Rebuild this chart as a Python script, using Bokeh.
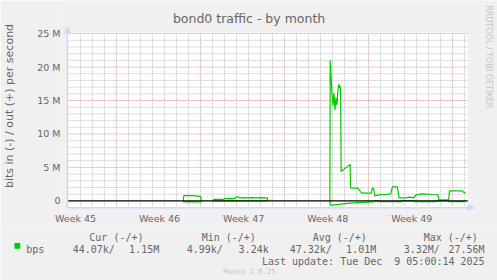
import math
from bokeh.plotting import figure
from bokeh.models import Range1d, FixedTicker, Label, Arrow, NormalHead
from bokeh.embed import file_html
from bokeh.resources import INLINE

nan = float("nan")

# ---- data (x = days since graph start, y = Mbit/s) ----
out_days = [9.56, 9.62, 10.39, 10.83, 11.04, 11.08, nan,
            12.05, 12.10, 12.96, 13.01, 13.90, 13.98, 14.15, 14.23, 14.60, 14.81,
            15.23, 15.64, 16.06, 16.56, 16.61, nan,
            21.78, 21.81, 21.95, 22.03, 22.12, 22.20, 22.28, 22.37, 22.45, 22.53,
            22.61, 22.67, 22.72, 23.47, 23.50, 24.10, 24.36, 24.50, 25.24, 25.31,
            25.41, 25.52, 25.85, 26.18, 26.51, 26.85, 26.99, 27.40, 27.54, 28.09,
            28.40, 28.78, 28.92, 29.48, 30.31, 30.79, 30.85, 31.68, 31.74, 32.80,
            32.90, 33.07]
out_mbps = [0.0, 0.78, 0.78, 0.70, 0.60, 0.0, nan,
            0.0, 0.22, 0.22, 0.34, 0.34, 0.60, 0.60, 0.45, 0.48, 0.44,
            0.48, 0.45, 0.47, 0.45, 0.0, nan,
            0.0, 21.0, 16.3, 14.3, 16.1, 13.6, 15.4, 14.3, 16.6, 17.4,
            16.9, 17.1, 4.4, 5.45, 1.95, 1.9, 1.3, 1.15, 1.15, 1.9,
            1.9, 0.75, 0.9, 0.95, 0.95, 1.05, 2.1, 2.1, 0.45, 0.45,
            0.55, 0.45, 0.85, 1.05, 0.95, 0.9, 0.15, 0.15, 1.5, 1.5,
            1.3, 1.15]

in_days = [9.56, 9.62, 11.04, 11.08, nan,
           12.05, 16.61, nan,
           21.78, 21.81, 21.95, 23.47, 24.50, 25.45, 25.55, 25.80, 25.85, 27.80,
           27.85, 28.75, 28.80, 30.60, 30.65, 31.65, 31.70, 33.07]
in_mbps = [0.0, -0.15, -0.15, 0.0, nan,
           -0.02, -0.02, nan,
           0.0, -0.65, -0.65, -0.35, -0.22, -0.15, -0.01, -0.01, -0.13, -0.13,
           -0.01, -0.01, -0.13, -0.13, -0.01, -0.01, -0.13, -0.13]

y_ticks = [0, 5, 10, 15, 20, 25]
y_tick_labels = ["0", "5 M", "10 M", "15 M", "20 M", "25 M"]
week_ticks = [0.6, 7.6, 14.6, 21.6, 28.6]
week_labels = ["Week 45", "Week 46", "Week 47", "Week 48", "Week 49"]
week_starts = [4, 11, 18, 25, 32]

series_name = "bps"
legend_headers = ["Cur (-/+)", "Min (-/+)", "Avg (-/+)", "Max (-/+)"]
legend_in = ["44.07k/", "4.99k/", "47.32k/", "3.32M/"]
legend_out = ["1.15M", "3.24k", "1.01M", "27.56M"]
last_update_date = "Last update: Tue Dec"
last_update_time = "9 05:00:14 2025"

# ---- styling ----
GREEN = "#00CC00"
AXIS = "#CFD6F8"
FONT = "#666666"
GRIDC = "#BEBEBE"
MGRIDC = "#EC8C8C"
BACK = "#F0F0F0"

# plot-area geometry (pixels -> data) used only for layout of texts/frame
PX_PER_DAY = 12.036
PX_PER_M = 6.72
X0_PX, Y0_PX = 66.0, 201.3


def xd(px):
    return (px - X0_PX) / PX_PER_DAY - 0.07


def yd(py):
    return (Y0_PX - py) / PX_PER_M


X_MIN, X_MAX = -0.07, 33.27
Y_MIN, Y_MAX = -1.04, 25.0

p = figure(width=497, height=226, output_backend="svg", toolbar_location=None,
           x_range=Range1d(xd(60), xd(497)), y_range=Range1d(yd(212), yd(0)),
           min_border_left=60, min_border_right=0, min_border_top=0,
           min_border_bottom=14, background_fill_color=BACK,
           border_fill_color=BACK, outline_line_color=None)
p.xgrid.visible = False
p.ygrid.visible = False

# white canvas
p.quad(left=[X_MIN], right=[X_MAX], bottom=[Y_MIN], top=[Y_MAX + 0.15],
       fill_color="white", line_color=None)

# grid lines (rrdtool style, dotted)
minor_y = [v for v in range(1, 25) if v % 5 != 0]
major_y = [5, 10, 15, 20, 25]
minor_x = [d for d in range(1, 34) if d not in week_starts]
p.segment(x0=[X_MIN] * len(minor_y), x1=[X_MAX] * len(minor_y), y0=minor_y, y1=minor_y,
          line_color=GRIDC, line_dash="1 1", line_width=1)
p.segment(x0=minor_x, x1=minor_x, y0=[Y_MIN] * len(minor_x), y1=[Y_MAX] * len(minor_x),
          line_color=GRIDC, line_dash="1 1", line_width=1)
p.segment(x0=[X_MIN] * len(major_y), x1=[X_MAX] * len(major_y), y0=major_y, y1=major_y,
          line_color=MGRIDC, line_dash="1 1", line_width=1)
p.segment(x0=week_starts, x1=week_starts, y0=[Y_MIN] * len(week_starts),
          y1=[Y_MAX] * len(week_starts), line_color=MGRIDC, line_dash="1 1", line_width=1)

# axes (tick labels from Bokeh axes)
for ax in (p.xaxis[0], p.yaxis[0]):
    ax.axis_line_color = None
    ax.major_tick_line_color = None
    ax.minor_tick_line_color = None
    ax.major_tick_out = 0
    ax.major_tick_in = 0
    ax.major_label_text_font = "DejaVu Sans"
    ax.major_label_text_font_size = "9.5px"
    ax.major_label_text_color = FONT

p.xaxis[0].ticker = FixedTicker(ticks=week_ticks)
p.xaxis[0].major_label_overrides = {t: l for t, l in zip(week_ticks, week_labels)}
p.xaxis[0].major_label_standoff = 1

p.yaxis[0].ticker = FixedTicker(ticks=y_ticks)
p.yaxis[0].major_label_overrides = {t: l for t, l in zip(y_ticks, y_tick_labels)}
p.yaxis[0].major_label_standoff = 1
p.yaxis[0].axis_label = "bits in (-) / out (+) per second"
p.yaxis[0].axis_label_text_font = "DejaVu Sans"
p.yaxis[0].axis_label_text_font_size = "11px"
p.yaxis[0].axis_label_text_font_style = "normal"
p.yaxis[0].axis_label_text_color = FONT
p.yaxis[0].axis_label_standoff = 18

# data
p.line(out_days, out_mbps, line_color=GREEN, line_width=1.2)
p.line(in_days, in_mbps, line_color=GREEN, line_width=1.2)

# zero rule
p.segment(x0=[X_MIN], x1=[X_MAX], y0=[0], y1=[0], line_color="black", line_width=1.3)

# axis lines with arrows
p.add_layout(Arrow(end=NormalHead(size=6, fill_color=AXIS, line_color=AXIS),
                   x_start=X_MIN, y_start=Y_MIN, x_end=X_MIN, y_end=yd(26.5),
                   line_color=AXIS, line_width=1.5))
p.add_layout(Arrow(end=NormalHead(size=6, fill_color=AXIS, line_color=AXIS),
                   x_start=X_MIN, y_start=Y_MIN, x_end=xd(473.5), y_end=Y_MIN,
                   line_color=AXIS, line_width=1.5))

# title and watermark
p.add_layout(Label(x=xd(248.0), y=yd(18.3), text="bond0 traffic - by month",
                   text_font="DejaVu Sans", text_font_size="12.5px", text_color=FONT,
                   text_align="center", text_baseline="alphabetic"))
p.add_layout(Label(x=xd(488.3), y=yd(56.5), text="RRDTOOL / TOBI OETIKER",
                   text_font="DejaVu Sans", text_font_size="8px", text_color="#C4C4C4",
                   text_align="center", text_baseline="middle", angle=-math.pi / 2))

# ---- legend strip, separate root (data coordinates = window pixels) ----
q = figure(width=497, height=54, output_backend="svg", toolbar_location=None,
           x_range=Range1d(0, 497), y_range=Range1d(280, 226),
           x_axis_location=None, y_axis_location=None,
           min_border_left=0, min_border_right=0, min_border_top=0, min_border_bottom=0,
           background_fill_color=BACK, border_fill_color=BACK, outline_line_color=None)
q.xgrid.visible = False
q.ygrid.visible = False


def lab(text, x, y, size="10px", align="left", color=FONT):
    q.add_layout(Label(x=x, y=y, text=text, text_font="DejaVu Sans Mono",
                       text_font_size=size, text_color=color, text_align=align,
                       text_baseline="alphabetic"))


header_x = [88.8, 201.2, 312.2, 423.2]
in_x = [72.2, 186.2, 289.2, 403.2]
out_x = [158.7, 268.2, 375.7, 484.1]
for t, x in zip(legend_headers, header_x):
    lab(t, x, 237.0)
q.quad(left=[14.0], right=[19.8], top=[242.4], bottom=[248.2],
       fill_color=GREEN, line_color=None)
lab(series_name, 25.8, 248.6)
for t, x in zip(legend_in, in_x):
    lab(t, x, 248.6)
for t, x in zip(legend_out, out_x):
    lab(t, x, 248.6, align="right")
lab(last_update_date, 381.8, 260.5, align="right")
lab(last_update_time, 484.1, 260.5, align="right")
lab("Munin 2.0.25", 249.0, 271.4, size="7.3px", align="center", color="#C4C4C4")

open("out.html", "w").write(file_html([p, q], INLINE))
